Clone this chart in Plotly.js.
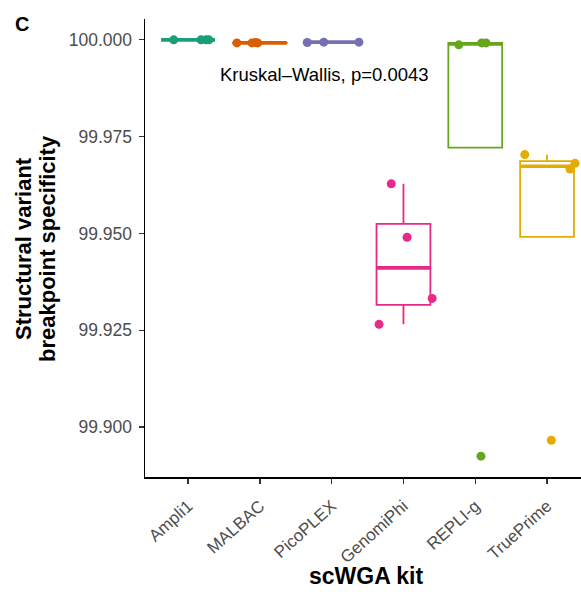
<!DOCTYPE html>
<html>
<head>
<meta charset="utf-8">
<script src="https://cdn.plot.ly/plotly-3.0.1.min.js"></script>
<style>html,body{margin:0;padding:0;background:#fff;}#chart{width:581px;height:592px;}</style>
</head>
<body>
<div id="chart"></div>
<script>
// ---- data ----
const kits = ['Ampli1', 'MALBAC', 'PicoPLEX', 'GenomiPhi', 'REPLI-g', 'TruePrime'];
const colors = ['#1B9E77', '#D95F02', '#7570B3', '#E7298A', '#66A61E', '#E6AB02'];

const ampli1    = [100.0000, 100.0000, 100.0000, 100.0000];
const malbac    = [99.9992, 99.9992, 99.9993, 99.9992];
const picoplex  = [99.9993, 99.9994, 99.9994];
const genomiphi = [99.9628, 99.9490, 99.9332, 99.9265];
const replig    = [99.9987, 99.9992, 99.9992, 99.89245];
const trueprime = [99.97036, 99.9681, 99.9666, 99.89657];

// horizontal jitter of each point (category units)
const ampli1Jit    = [-0.20, 0.18, 0.25, 0.29];
const malbacJit    = [-0.32, -0.11, -0.06, -0.03];
const picoplexJit  = [-0.34, -0.11, 0.38];
const genomiphiJit = [-0.17, 0.05, 0.40, -0.34];
const repligJit    = [-0.23, 0.09, 0.15, 0.08];
const trueprimeJit = [-0.31, 0.39, 0.32, 0.06];

const yTicks = [99.900, 99.925, 99.950, 99.975, 100.000];
const testLabel = 'Kruskal\u2013Wallis, p=0.0043';

// ---- build ----
const series = [ampli1, malbac, picoplex, genomiphi, replig, trueprime];
const jitters = [ampli1Jit, malbacJit, picoplexJit, genomiphiJit, repligJit, trueprimeJit];

function q(sorted, p) {
  const h = (sorted.length - 1) * p;
  const lo = Math.floor(h);
  const hi = Math.min(lo + 1, sorted.length - 1);
  return sorted[lo] + (h - lo) * (sorted[hi] - sorted[lo]);
}
function stats(vals) {
  const s = vals.slice().sort((a, b) => a - b);
  const q1 = q(s, 0.25), med = q(s, 0.5), q3 = q(s, 0.75);
  const iqr = q3 - q1;
  const inside = s.filter(v => v >= q1 - 1.5 * iqr && v <= q3 + 1.5 * iqr);
  const lo = Math.min(q1, ...inside);
  const hi = Math.max(q3, ...inside);
  return {q1, med, q3, lo, hi};
}

const BOXW = 0.75;
const traces = [];
series.forEach((vals, i) => {
  const st = stats(vals);
  traces.push({
    type: 'box', x: [i], q1: [st.q1], median: [st.med], q3: [st.q3],
    lowerfence: [st.lo], upperfence: [st.hi],
    width: BOXW, whiskerwidth: 0, boxpoints: false,
    line: {color: colors[i], width: 1.8}, fillcolor: 'rgba(255,255,255,0)',
    hoverinfo: 'skip', showlegend: false
  });
  traces.push({
    type: 'scatter', mode: 'lines',
    x: [i - BOXW / 2, i + BOXW / 2], y: [st.med, st.med],
    line: {color: colors[i], width: 3.6}, hoverinfo: 'skip', showlegend: false
  });
});
series.forEach((vals, i) => {
  traces.push({
    type: 'scatter', mode: 'markers',
    x: vals.map((v, k) => i + jitters[i][k]), y: vals,
    marker: {color: colors[i], size: 9, line: {width: 0}},
    hoverinfo: 'skip', showlegend: false
  });
});

const FONT = 'Liberation Sans, Arial, Helvetica, sans-serif';
const L = 145, T = 19, W = 581, H = 592, B = 115;
const pw = W - L, ph = H - T - B;
const px2x = p => (p - L) / pw;
const py2y = p => (H - B - p) / ph;

const layout = {
  width: W, height: H,
  margin: {l: L, r: 0, t: T, b: B, pad: 0},
  paper_bgcolor: '#fff', plot_bgcolor: '#fff',
  font: {family: FONT, color: '#000'},
  boxmode: 'overlay',
  showlegend: false,
  xaxis: {
    range: [-0.6, 5.473], tickvals: kits.map((k, i) => i), ticktext: kits,
    tickangle: -42, tickfont: {size: 17, color: '#4D4D4D', family: FONT},
    showline: true, linecolor: '#000', linewidth: 1.5,
    ticks: 'outside', ticklen: 5, tickwidth: 1.3, tickcolor: '#333',
    ticklabelstandoff: 6,
    showgrid: false, zeroline: false, fixedrange: true
  },
  yaxis: {
    range: [99.88707, 100.00538], tickvals: yTicks, tickformat: '.3f',
    tickfont: {size: 17.5, color: '#4D4D4D', family: FONT},
    showline: true, linecolor: '#000', linewidth: 1.5,
    ticks: 'outside', ticklen: 5, tickwidth: 1.3, tickcolor: '#333',
    ticklabelstandoff: 3,
    showgrid: false, zeroline: false, fixedrange: true
  },
  annotations: [
    {text: testLabel, xref: 'x', yref: 'y', x: 0.42, y: 99.99098,
     xanchor: 'left', yanchor: 'middle', showarrow: false,
     font: {size: 18.5, color: '#000', family: FONT}},
    {text: '<b>C</b>', xref: 'paper', yref: 'paper', x: px2x(22), y: py2y(24),
     xanchor: 'center', yanchor: 'middle', showarrow: false,
     font: {size: 20, color: '#000', family: FONT}},
    {text: '<b>Structural variant</b>', xref: 'paper', yref: 'paper',
     x: px2x(24), y: py2y(249), xanchor: 'center', yanchor: 'middle',
     textangle: -90, showarrow: false, font: {size: 22, color: '#000', family: FONT}},
    {text: '<b>breakpoint specificity</b>', xref: 'paper', yref: 'paper',
     x: px2x(48), y: py2y(249), xanchor: 'center', yanchor: 'middle',
     textangle: -90, showarrow: false, font: {size: 22, color: '#000', family: FONT}},
    {text: '<b>scWGA kit</b>', xref: 'paper', yref: 'paper',
     x: px2x(366), y: py2y(576), xanchor: 'center', yanchor: 'middle',
     showarrow: false, font: {size: 23, color: '#000', family: FONT}}
  ]
};

Plotly.newPlot('chart', traces, layout, {staticPlot: true, displayModeBar: false});
</script>
</body>
</html>
